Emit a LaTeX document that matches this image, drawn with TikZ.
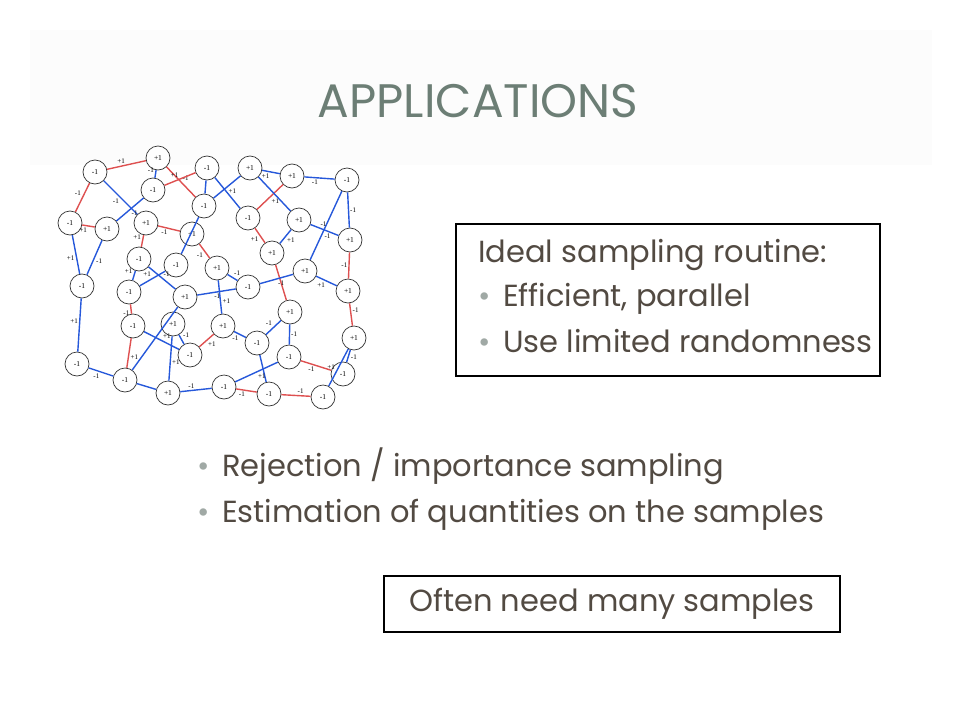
\documentclass[tikz,border=0pt]{standalone}
\usepackage{fontspec}
\newfontfamily\slidefont{Poppins}
\newfontfamily\graphfont{Liberation Serif}
\definecolor{titlegreen}{RGB}{108,126,117}
\definecolor{bodybrown}{RGB}{82,74,66}
\definecolor{bulletgray}{RGB}{160,169,165}
\definecolor{spinred}{RGB}{222,80,80}
\definecolor{spinblue}{RGB}{38,88,218}

\tikzset{
  vtx/.style={draw=black!80, circle, fill=white, minimum size=24pt, inner sep=0pt, line width=0.7pt, font=\graphfont\fontsize{7.5}{7.5}\selectfont},
  redline/.style={spinred, line width=1.4pt},
  blueline/.style={spinblue, line width=1.4pt},
  lbl/.style={text=black, inner sep=1pt, auto, font=\graphfont\fontsize{7}{7}\selectfont},
  slidetext/.style={anchor=base west, inner sep=0pt, text=bodybrown, font=\slidefont\fontsize{30.5}{30.5}\selectfont},
  bulletdot/.style={anchor=base, inner sep=0pt, text=bulletgray, font=\slidefont\fontsize{30}{30}\selectfont},
  framebox/.style={draw=black, line width=1.5pt, inner sep=0pt}
}

\begin{document}
\begin{tikzpicture}[x=1pt, y=-1pt]
\useasboundingbox (0,0) rectangle (960,720);
\fill[black!1] (30,30) rectangle (932,165);

% title
\node[anchor=base, inner sep=0pt, text=titlegreen, font=\slidefont\fontsize{47}{47}\selectfont] (title) at (478,117) {APPLICATIONS};

% spin graph
\node[vtx] (a) at (95,172) {-1};
\node[vtx] (b) at (158,158) {+1};
\node[vtx] (c) at (153,190) {-1};
\node[vtx] (d) at (207,168) {-1};
\node[vtx] (e) at (250,168) {+1};
\node[vtx] (f) at (292,176) {+1};
\node[vtx] (g) at (347,180) {-1};
\node[vtx] (h) at (204,206) {-1};
\node[vtx] (i) at (70,223) {-1};
\node[vtx] (j) at (107,229) {+1};
\node[vtx] (k) at (146,223) {+1};
\node[vtx] (l) at (192,234) {+1};
\node[vtx] (m) at (248,218) {-1};
\node[vtx] (n) at (299,220) {+1};
\node[vtx] (o) at (350,240) {+1};
\node[vtx] (p) at (139,259) {-1};
\node[vtx] (q) at (176,265) {-1};
\node[vtx] (r) at (217,268) {+1};
\node[vtx] (s) at (272,253) {+1};
\node[vtx] (t) at (305,271) {+1};
\node[vtx] (u) at (82,286) {-1};
\node[vtx] (v) at (129,292) {-1};
\node[vtx] (w) at (185,297) {+1};
\node[vtx] (x) at (248,287) {-1};
\node[vtx] (y) at (348,291) {+1};
\node[vtx] (z) at (133,326) {-1};
\node[vtx] (A) at (173,324) {+1};
\node[vtx] (B) at (223,326) {+1};
\node[vtx] (C) at (290,312) {+1};
\node[vtx] (D) at (190,355) {-1};
\node[vtx] (E) at (257,343) {-1};
\node[vtx] (F) at (354,338) {+1};
\node[vtx] (G) at (289,357) {-1};
\node[vtx] (H) at (77,364) {-1};
\node[vtx] (I) at (125,380) {-1};
\node[vtx] (J) at (168,393) {+1};
\node[vtx] (K) at (224,387) {-1};
\node[vtx] (L) at (269,394) {-1};
\node[vtx] (M) at (343,374) {-1};
\node[vtx] (N) at (323,397) {-1};

% frustrated couplings
\draw[redline] (a) -- node[lbl] {+1} (b);
\draw[redline] (a) -- node[lbl, swap] {-1} (i);
\draw[redline] (b) -- node[lbl] {-1} (h);
\draw[redline] (c) -- node[lbl] {+1} (d);
\draw[redline] (i) -- node[lbl, swap] {+1} (j);
\draw[redline] (k) -- node[lbl, swap] {-1} (l);
\draw[redline] (k) -- node[lbl, swap] {+1} (p);
\draw[redline] (l) -- node[lbl, swap] {-1} (r);
\draw[redline] (f) -- node[lbl] {+1} (m);
\draw[redline] (m) -- node[lbl, swap] {+1} (s);
\draw[redline] (o) -- node[lbl, swap] {-1} (y);
\draw[redline] (s) -- (C);
\draw[redline] (v) -- node[lbl, swap] {-1} (z);
\draw[redline] (z) -- node[lbl] {+1} (I);
\draw[redline] (B) -- node[lbl] {+1} (D);
\draw[redline] (y) -- node[lbl] {-1} (F);
\draw[redline] (G) -- node[lbl, swap] {-1} (M);
\draw[redline] (K) -- node[lbl, swap] {-1} (L);
\draw[redline] (L) -- node[lbl] {-1} (N);

% satisfied couplings
\draw[blueline] (a) -- node[lbl, swap] {-1} (k);
\draw[blueline] (b) -- node[lbl, swap] {-1} (c);
\draw[blueline] (c) -- node[lbl] {-1} (j);
\draw[blueline] (d) -- (h);
\draw[blueline] (h) -- (q);
\draw[blueline] (i) -- node[lbl, swap] {+1} (u);
\draw[blueline] (j) -- node[lbl] {-1} (u);
\draw[blueline] (h) -- node[lbl, swap] {+1} (e);
\draw[blueline] (d) -- (m);
\draw[blueline] (e) -- node[lbl, swap] {+1} (f);
\draw[blueline] (e) -- (n);
\draw[blueline] (f) -- node[lbl, swap] {-1} (g);
\draw[blueline] (g) -- node[lbl] {-1} (o);
\draw[blueline] (g) -- node[lbl, pos=0.6] {-1} (t);
\draw[blueline] (n) -- node[lbl, pos=0.3] {-1} (o);
\draw[blueline] (n) -- node[lbl] {+1} (s);
\draw[blueline] (r) -- node[lbl] {-1} (x);
\draw[blueline] (x) -- node[lbl, swap] {-1} (t);
\draw[blueline] (t) -- node[lbl, swap] {+1} (y);
\draw[blueline] (r) -- node[lbl, pos=0.75] {+1} (B);
\draw[blueline] (w) -- node[lbl, swap, pos=0.4] {-1} (x);
\draw[blueline] (p) -- node[lbl] {-1} (w);
\draw[blueline] (p) -- node[lbl, swap] {+1} (v);
\draw[blueline] (v) -- node[lbl] {+1} (q);
\draw[blueline] (I) -- (w);
\draw[blueline] (A) -- node[lbl] {-1} (D);
\draw[blueline] (A) -- node[lbl] {+1} (J);
\draw[blueline] (u) -- node[lbl, swap] {+1} (H);
\draw[blueline] (H) -- node[lbl, swap] {-1} (I);
\draw[blueline] (I) -- (J);
\draw[blueline] (z) -- node[lbl] {+1} (D);
\draw[blueline] (J) -- node[lbl] {-1} (K);
\draw[blueline] (B) -- node[lbl, swap] {-1} (E);
\draw[blueline] (E) -- node[lbl] {-1} (C);
\draw[blueline] (C) -- node[lbl] {-1} (G);
\draw[blueline] (E) -- (L);
\draw[blueline] (G) -- node[lbl] {+1} (K);
\draw[blueline] (F) -- node[lbl, swap, pos=0.6] {+1} (N);
\draw[blueline] (F) -- node[lbl, pos=0.3] {-1} (M);

% sampling box
\node[framebox, minimum width=424pt, minimum height=152pt] (idealbox) at (668,300) {};
\node[slidetext] (ideal) at (478,262) {Ideal sampling routine:};
\node[bulletdot] (dot1) at (485,306) {•};
\node[slidetext] (eff) at (503,306) {Efficient, parallel};
\node[bulletdot] (dot2) at (485,352) {•};
\node[slidetext] (rand) at (503,352) {Use limited randomness};

% bullet list
\node[bulletdot] (dot3) at (204,476) {•};
\node[slidetext] (rej) at (222,476) {Rejection / importance sampling};
\node[bulletdot] (dot4) at (204,522) {•};
\node[slidetext] (est) at (222,522) {Estimation of quantities on the samples};

% bottom box
\node[framebox, minimum width=456pt, minimum height=56pt, text=bodybrown, font=\slidefont\fontsize{30.5}{30.5}\selectfont] (often) at (612,604) {Often need many samples};
\end{tikzpicture}
\end{document}
